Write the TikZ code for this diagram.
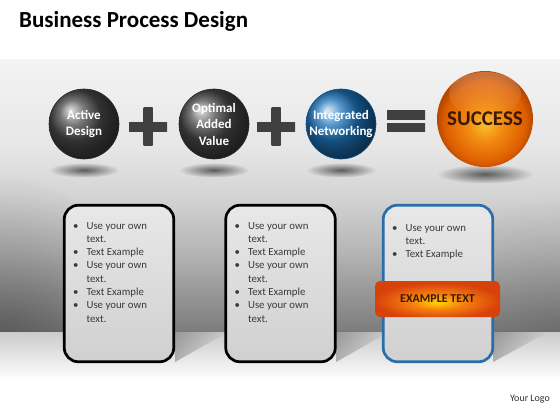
\documentclass[tikz,border=0pt]{standalone}
\usepackage{fontspec}
\setmainfont{Carlito}
\usetikzlibrary{fadings}
\definecolor{w1}{HTML}{7C7C7C}
\definecolor{w2}{HTML}{929292}
\definecolor{w3}{HTML}{B6B6B6}
\definecolor{w4}{HTML}{D2D2D2}
\definecolor{w5}{HTML}{E6E6E6}
\definecolor{w6}{HTML}{F3F3F3}
\definecolor{floorA}{HTML}{CBCBCB}
\definecolor{txtgray}{HTML}{3A3A3A}
\definecolor{netblue}{HTML}{1C72B8}
\definecolor{cardblue}{HTML}{2A6DAA}
\definecolor{cardA}{HTML}{E8E8E8}
\definecolor{cardB}{HTML}{D0D0D0}
\definecolor{brownT}{HTML}{3B1800}
\definecolor{sA}{HTML}{F9BE2E}
\definecolor{sB}{HTML}{F28C12}
\definecolor{sC}{HTML}{DE5E00}
\definecolor{sD}{HTML}{B84800}
\definecolor{bA}{HTML}{FFD400}
\definecolor{bB}{HTML}{F47E10}
\definecolor{bC}{HTML}{D8420A}
\pgfdeclareverticalshading{wallsh}{100bp}{color(0bp)=(w1); color(25bp)=(w1); color(30.9bp)=(w2); color(40bp)=(w3); color(49.3bp)=(w4); color(58.5bp)=(w5); color(75bp)=(w6); color(100bp)=(w6)}
\pgfdeclareradialshading{succsh}{\pgfpoint{0bp}{-3bp}}{color(0bp)=(sA); color(9bp)=(sB); color(21bp)=(sC); color(25bp)=(sD); color(50bp)=(sD)}
\pgfdeclareradialshading{bandsh}{\pgfpoint{0bp}{-5bp}}{color(0bp)=(bA); color(11bp)=(bB); color(25bp)=(bC); color(50bp)=(bC)}
\tikzfading[name=softshade, inner color=transparent!10, outer color=transparent!100]
\tikzfading[name=glossfade, top color=transparent!30, bottom color=transparent!100]
\begin{document}
\begin{tikzpicture}[x=1pt,y=-1pt,
  orb/.style={circle, minimum size=70pt, inner sep=0pt, text=white, align=center,
    font=\bfseries\fontsize{13}{16.5}\selectfont},
  card/.style={rounded corners=14pt, line width=2.7pt, minimum width=109.5pt,
    minimum height=156.5pt, top color=cardA, bottom color=cardB},
  listtxt/.style={anchor=north west, inner sep=0pt, text=txtgray,
    font=\fontsize{10.8}{13.3}\selectfont},
  hbar/.style={top color=black!75, middle color=black!38, bottom color=black!75},
  vbar/.style={left color=black!75, middle color=black!38, right color=black!75},
  orbshadow/.style={black, fill opacity=0.65, path fading=softshade},
  floorshadow/.style={black, fill opacity=0.25, path fading=east}]
\useasboundingbox (0,0) rectangle (560,420);
% background
\fill[white] (0,0) rectangle (560,420);
\shade[shading=wallsh] (0,60) rectangle (560,332);
\begin{scope}
\clip (0,60) rectangle (560,332);
\fill[black, fill opacity=0.3, path fading=softshade] (0,332) ellipse (140 and 160);
\fill[black, fill opacity=0.15, path fading=softshade] (560,332) ellipse (120 and 140);
\end{scope}
\shade[top color=floorA, bottom color=white] (0,332) rectangle (560,380);
% floor shadows of the cards
\fill[floorshadow] (175,332) -- (175,362) -- (228,332) -- cycle;
\fill[floorshadow] (336,332) -- (336,362) -- (389,332) -- cycle;
\fill[floorshadow] (493,332) -- (493,362) -- (548,332) -- cycle;
% title
\node[anchor=west, inner sep=0pt, font=\bfseries\fontsize{23}{28}\selectfont] (title) at (19,21) {Business Process Design};
% orb shadows
\fill[orbshadow] (84,170) ellipse (35 and 7.5);
\fill[orbshadow] (214,170) ellipse (35 and 7.5);
\fill[orbshadow] (341,170) ellipse (35 and 7.5);
\fill[orbshadow] (485,174) ellipse (48 and 9.5);
% orbs
\node[orb, ball color=black!72, draw=black!85, line width=0.6pt] (active) at (84,124) {Active\\Design};
\node[orb, ball color=black!72, draw=black!85, line width=0.6pt] (optimal) at (214,124) {Optimal\\Added\\Value};
\node[orb, ball color=netblue, draw=netblue!70!black, line width=0.6pt] (integ) at (341,124) {Integrated\\Networking};
\node[circle, minimum size=96pt, inner sep=0pt, shade, shading=succsh, text=brownT,
  font=\bfseries\fontsize{21}{24}\selectfont] (success) at (485,119) {SUCCESS};
\fill[white, fill opacity=0.35, path fading=glossfade] (485,94) ellipse (36 and 22);
% plus and equals signs
\shade[vbar] (143.5,108) rectangle (152.5,145);
\shade[hbar] (129,122) rectangle (167,131);
\shade[vbar] (271.5,108) rectangle (280.5,145);
\shade[hbar] (257,122) rectangle (295,131);
\shade[hbar] (387,111) rectangle (425,119.5);
\shade[hbar] (387,123) rectangle (425,131.5);
% cards
\node[card, draw=black] (card1) at (119,283.5) {};
\node[card, draw=black] (card2) at (280.5,283.5) {};
\node[card, draw=cardblue] (card3) at (438,283.5) {};
% lists
\node[listtxt] (list1) at (73,219.5) {\begin{tabular}{@{}c@{\hspace{8pt}}l@{}}
\textbullet & Use your own\\ & text.\\ \textbullet & Text Example\\ \textbullet & Use your own\\ & text.\\
\textbullet & Text Example\\ \textbullet & Use your own\\ & text.\end{tabular}};
\node[listtxt] (list2) at (234.5,219.5) {\begin{tabular}{@{}c@{\hspace{8pt}}l@{}}
\textbullet & Use your own\\ & text.\\ \textbullet & Text Example\\ \textbullet & Use your own\\ & text.\\
\textbullet & Text Example\\ \textbullet & Use your own\\ & text.\end{tabular}};
\node[listtxt] (list3) at (392,221.5) {\begin{tabular}{@{}c@{\hspace{8pt}}l@{}}
\textbullet & Use your own\\ & text.\\ \textbullet & Text Example\end{tabular}};
% band
\node[shade, shading=bandsh, rounded corners=5pt, minimum width=125pt, minimum height=36pt,
  text=brownT, font=\bfseries\fontsize{12}{14}\selectfont] (band) at (437.5,299) {EXAMPLE TEXT};
% logo
\node[text=black!80, font=\fontsize{10}{12}\selectfont] (logo) at (530,399) {Your Logo};
\end{tikzpicture}
\end{document}
